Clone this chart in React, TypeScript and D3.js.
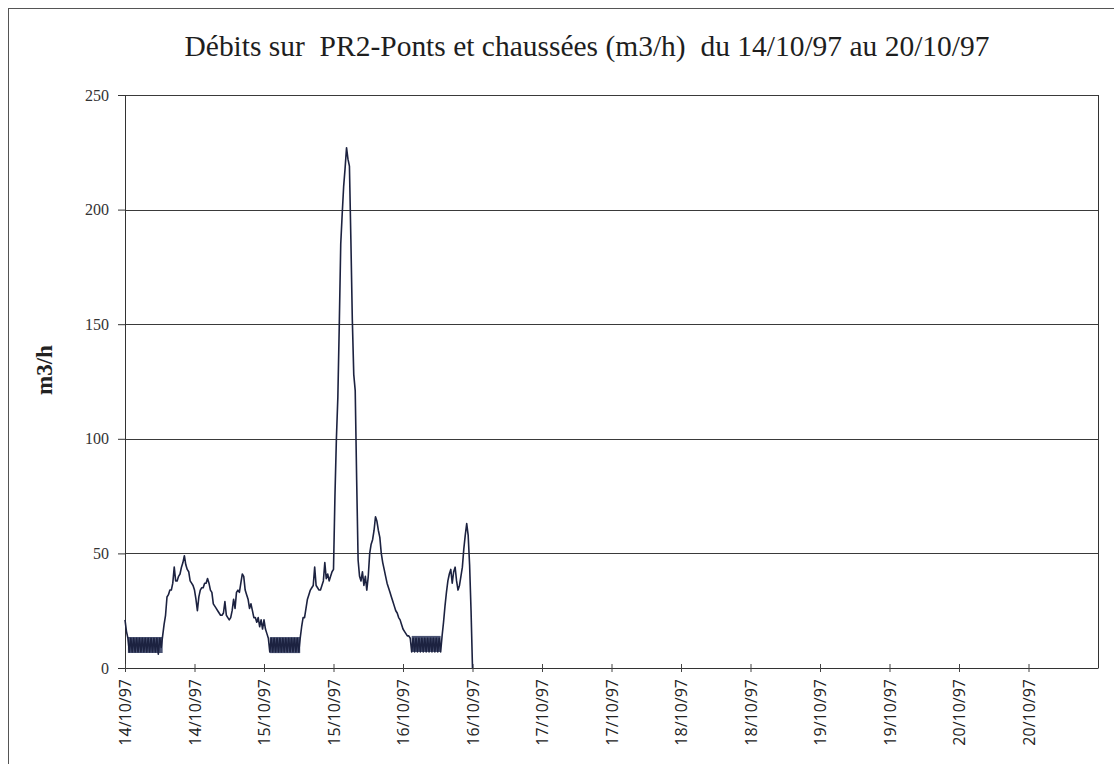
import React, { useRef, useEffect } from "react";
import * as d3 from "d3";

// débits au pas de 15 min, à partir du 14/10/97 00:00
const day14 = [
  21, 16, 13, 7, 13, 7, 13, 7, 13, 7, 13, 7, 13, 7, 13, 7,
  13, 7, 13, 7, 13, 7, 13, 6, 13, 9, 14, 19, 23, 31, 32, 34,
  34, 37, 44, 38, 38, 40, 41, 44, 46, 49, 45, 43, 42, 38, 37, 36,
  34, 30, 25, 31, 34, 35, 35, 37, 37, 39, 37, 34, 33, 28, 27, 26,
  25, 24, 23, 23, 24, 29, 23, 22, 21, 22, 25, 30, 26, 33, 34, 33,
  37, 41, 40, 34, 32, 30, 26, 28, 25, 22, 22, 20, 22, 18, 21, 17,
];
const day15 = [
  21, 17, 15, 13, 7, 13, 7, 13, 7, 13, 7, 13, 7, 13, 7, 13,
  7, 13, 7, 13, 7, 13, 7, 13, 7, 13, 18, 22, 22, 26, 30, 32,
  34, 35, 36, 44, 36, 35, 34, 34, 36, 38, 46, 39, 41, 38, 40, 42,
  43, 75, 100, 118, 150, 185, 198, 210, 218, 227, 222, 219, 187, 152, 128, 121,
  82, 47, 40, 38, 42, 36, 40, 34, 40, 50, 54, 56, 60, 66, 64, 60,
  57, 50, 46, 43, 40, 37, 35, 33, 31, 29, 27, 25, 24, 22, 21, 19,
];
const day16 = [
  17, 16, 15, 14, 14, 13, 7, 13, 7, 13, 7, 13, 7, 13, 7, 13,
  7, 13, 7, 13, 7, 13, 7, 13, 7, 13, 7, 14, 20, 27, 33, 38,
  41, 43, 37, 42, 44, 38, 34, 36, 40, 44, 52, 58, 63, 58, 45, 25,
  0,
];

// plages nocturnes où le débit oscille rapidement (heures depuis le 14/10 00:00)
const bandStartH = [0.5, 25, 49.5];
const bandEndH = [6.5, 30.25, 54.5];
const bandLow = [6.5, 6.5, 7];
const bandHigh = [13.5, 13.5, 14];

const yTicks = [0, 50, 100, 150, 200, 250];
const startDate = new Date(1997, 9, 14, 0, 0);
const endDate = new Date(1997, 9, 21, 0, 0);
const stepMinutes = 15;

const title = "Débits sur\u00a0\u00a0PR2-Ponts et chaussées (m3/h)\u00a0\u00a0du 14/10/97 au 20/10/97";
const yLabel = "m3/h";

export default function App() {
  const ref = useRef(null);
  const width = 1114;
  const height = 764;

  useEffect(() => {
    const svg = d3.select(ref.current);
    svg.selectAll("*").remove();

    const values = [...day14, ...day15, ...day16];
    const data = values.map((v, i) => ({
      t: d3.timeMinute.offset(startDate, i * stepMinutes),
      v,
    }));
    const bands = bandStartH.map((s, i) => [
      { t: d3.timeMinute.offset(startDate, s * 60), lo: bandLow[i], hi: bandHigh[i] },
      { t: d3.timeMinute.offset(startDate, bandEndH[i] * 60), lo: bandLow[i], hi: bandHigh[i] },
    ]);

    const margin = { top: 95, right: 16, bottom: 96, left: 125 };
    const innerWidth = width - margin.left - margin.right;
    const innerHeight = height - margin.top - margin.bottom;

    // cadre extérieur
    svg.append("rect")
      .attr("x", 8.5).attr("y", 8.5)
      .attr("width", width + 20).attr("height", height + 20)
      .attr("fill", "none").attr("stroke", "#555").attr("stroke-width", 1);

    svg.append("text")
      .attr("x", 587).attr("y", 56)
      .attr("text-anchor", "middle")
      .attr("font-family", "'Liberation Serif', 'Times New Roman', serif")
      .attr("font-size", 29)
      .attr("textLength", 805)
      .attr("lengthAdjust", "spacingAndGlyphs")
      .attr("fill", "#1e1e1e")
      .text(title);

    const g = svg.append("g")
      .attr("transform", `translate(${margin.left},${margin.top})`);

    const x = d3.scaleTime().domain([startDate, endDate]).range([0, innerWidth]);
    const y = d3.scaleLinear().domain([0, 250]).range([innerHeight, 0]);

    // grille
    g.selectAll(".grid")
      .data(yTicks.filter(d => d > 0))
      .enter()
      .append("line")
      .attr("x1", 0).attr("x2", innerWidth)
      .attr("y1", d => Math.round(y(d)) + 0.5).attr("y2", d => Math.round(y(d)) + 0.5)
      .attr("stroke", "#3a3a3a").attr("stroke-width", 1);

    // bord droit
    g.append("line")
      .attr("x1", innerWidth + 0.5).attr("x2", innerWidth + 0.5)
      .attr("y1", 0).attr("y2", innerHeight)
      .attr("stroke", "#333");

    // axe Y
    const yAxis = d3.axisLeft(y).tickValues(yTicks).tickSize(7).tickPadding(9);
    const ya = g.append("g").call(yAxis);
    ya.select(".domain").attr("stroke", "#333");
    ya.selectAll("line").attr("stroke", "#333");
    ya.selectAll("text")
      .attr("font-family", "'Liberation Serif', 'Times New Roman', serif")
      .attr("font-size", 16)
      .attr("fill", "#333");

    // axe X
    const xAxis = d3.axisBottom(x)
      .ticks(d3.timeHour.every(12))
      .tickFormat(d3.timeFormat("%d/%m/%y"))
      .tickSize(0);
    const xa = g.append("g")
      .attr("transform", `translate(0,${innerHeight})`)
      .call(xAxis);
    xa.select(".domain").attr("stroke", "#333");
    xa.selectAll(".tick line").remove();
    xa.selectAll(".tick")
      .append("line")
      .attr("y1", -4).attr("y2", 4)
      .attr("stroke", "#444");
    xa.selectAll(".tick").filter(d => +d >= +endDate).remove();
    xa.selectAll("text")
      .attr("transform", "rotate(-90)")
      .attr("text-anchor", "end")
      .attr("x", -11)
      .attr("y", 0)
      .attr("dy", "0.35em")
      .attr("font-family", "'Open Sans', 'Liberation Sans', sans-serif")
      .attr("font-size", 16)
      .attr("fill", "#222");

    // plages d'oscillation
    const band = d3.area()
      .x(d => x(d.t))
      .y0(d => y(d.lo))
      .y1(d => y(d.hi));
    g.selectAll(".band")
      .data(bands)
      .enter()
      .append("path")
      .attr("d", band)
      .attr("fill", "#4b5474");

    // courbe
    const line = d3.line()
      .x(d => x(d.t))
      .y(d => y(d.v));

    g.append("path")
      .datum(data)
      .attr("d", line)
      .attr("fill", "none")
      .attr("stroke", "#1c2240")
      .attr("stroke-width", 1.6)
      .attr("stroke-linejoin", "round");

    // titre de l'axe Y
    svg.append("text")
      .attr("transform", `translate(52,${margin.top + innerHeight * 0.48}) rotate(-90)`)
      .attr("text-anchor", "middle")
      .attr("font-family", "'Liberation Serif', 'Times New Roman', serif")
      .attr("font-weight", "bold")
      .attr("font-size", 23)
      .attr("fill", "#222")
      .text(yLabel);
  }, []);

  return (
    <svg
      ref={ref}
      width={width}
      height={height}
      style={{ position: "absolute", left: 0, top: 0, background: "#fff" }}
    />
  );
}
